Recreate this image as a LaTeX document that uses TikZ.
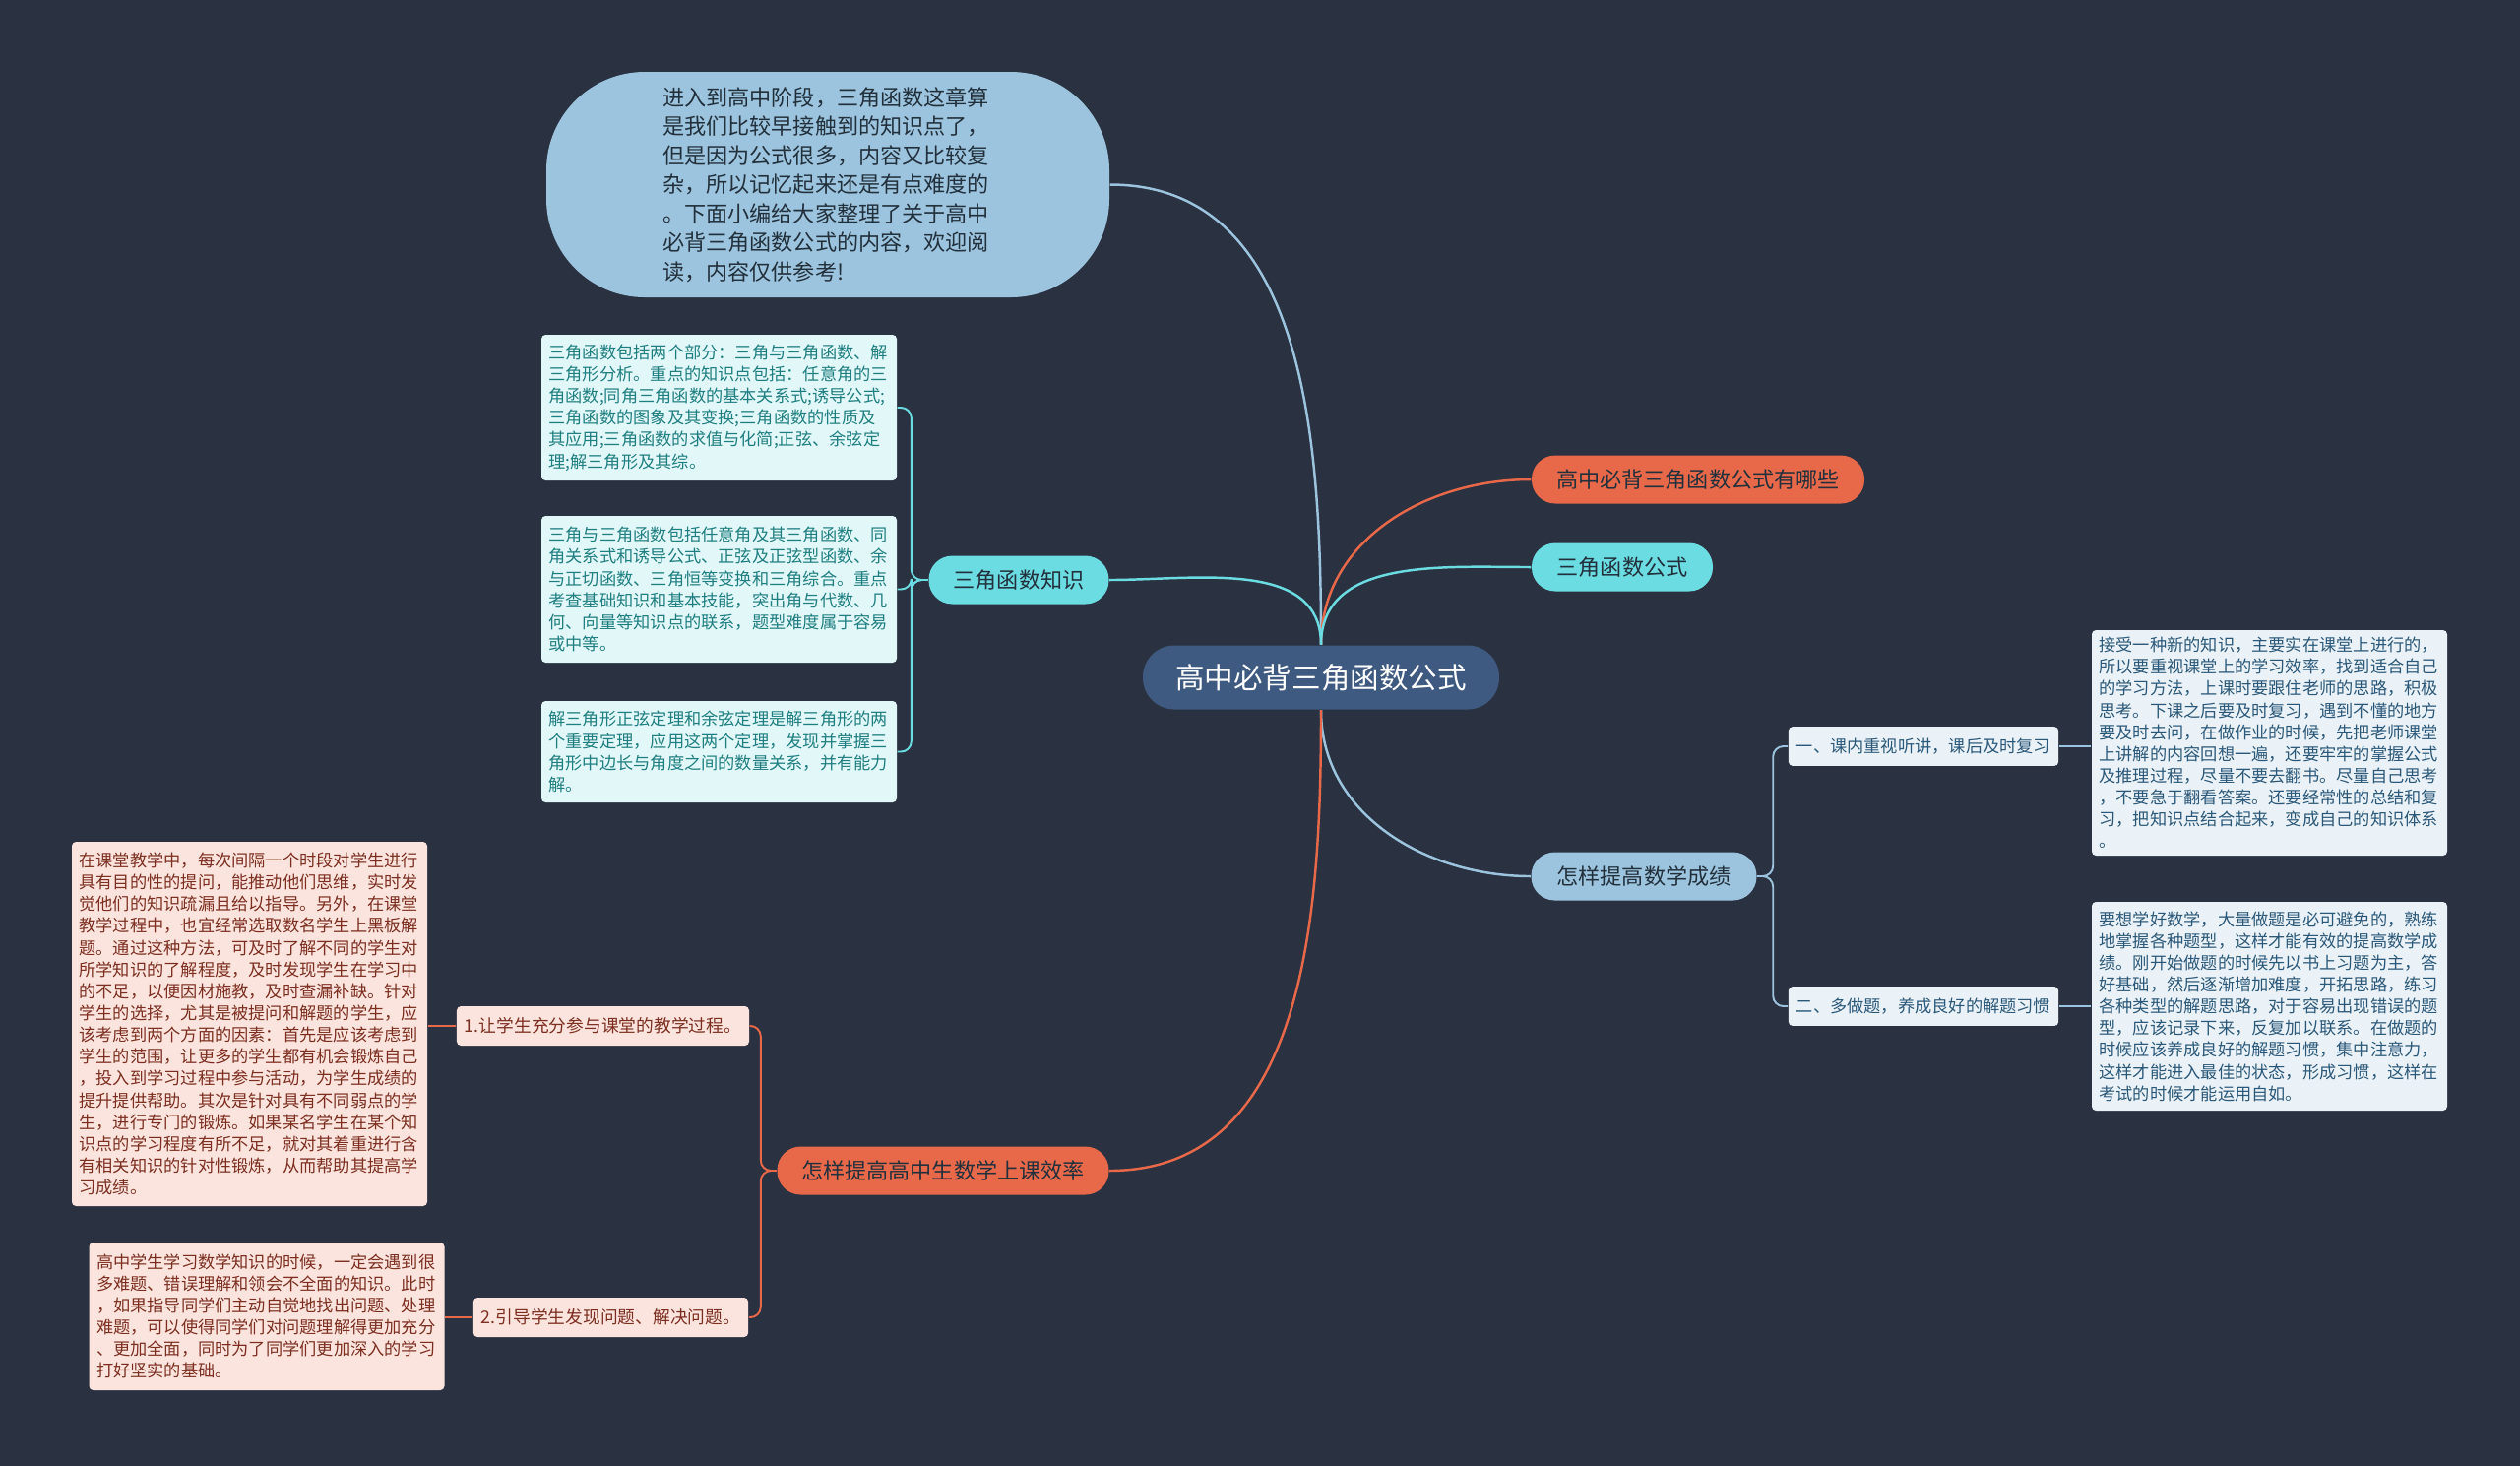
\documentclass[tikz,border=0pt]{standalone}
\usepackage{fontspec}
\newfontfamily\cjk{Noto Sans CJK SC}
\usepackage{xcolor}
\definecolor{bgnavy}{HTML}{2A3140}
\definecolor{rootblue}{HTML}{3F5A80}
\definecolor{coral}{HTML}{E8694A}
\definecolor{aqua}{HTML}{6BDCE2}
\definecolor{skyblue}{HTML}{9CC4DE}
\definecolor{aquapale}{HTML}{E1F7F8}
\definecolor{aquatext}{HTML}{1F7E80}
\definecolor{skypale}{HTML}{EAF2F8}
\definecolor{skytext}{HTML}{2B5878}
\definecolor{coralpale}{HTML}{FCE4DE}
\definecolor{coraltext}{HTML}{7C2E20}
\definecolor{inkdark}{HTML}{22303C}

\begin{document}
\begin{tikzpicture}[
  root/.style={fill=rootblue, text=white, rounded corners=0.32cm,
    minimum width=3.62cm, minimum height=0.65cm,
    font=\cjk\fontsize{8.4}{10}\selectfont},
  topic/.style={rounded corners=0.24cm, minimum height=0.49cm,
    text=inkdark, font=\cjk\fontsize{6.3}{7.5}\selectfont},
  bubble/.style={fill=skyblue, text=inkdark, rounded corners=1.0cm,
    minimum width=5.72cm, minimum height=2.29cm,
    text width=3.36cm, align=left, font=\cjk\fontsize{6.3}{8.4}\selectfont},
  card/.style={rounded corners=1.2pt, text width=3.46cm,
    inner xsep=0.075cm, inner ysep=0.07cm, align=left,
    font=\cjk\fontsize{4.9}{6.3}\selectfont},
  sub/.style={rounded corners=1.2pt, minimum height=0.36cm,
    inner xsep=0.08cm, font=\cjk\fontsize{4.9}{6}\selectfont},
  link/.style={line width=0.7pt},
  twig/.style={line width=0.55pt, rounded corners=3pt},
]
\useasboundingbox (0,0) rectangle (25.6,-14.88);
\fill[bgnavy] (-0.1,0.1) rectangle (25.7,-14.98);
% root
\node[root] (root) at (13.42,-6.88) {高中必背三角函数公式};
% intro
\node[bubble] (intro) at (8.41,-1.875)
  {进入到高中阶段，三角函数这章算\\
   是我们比较早接触到的知识点了，\\
   但是因为公式很多，内容又比较复\\
   杂，所以记忆起来还是有点难度的\\
   。下面小编给大家整理了关于高中\\
   必背三角函数公式的内容，欢迎阅\\
   读，内容仅供参考!};
% main topics
\node[topic, fill=coral, minimum width=3.38cm] (ask) at (17.25,-4.87) {高中必背三角函数公式有哪些};
\node[topic, fill=aqua, minimum width=1.84cm] (formula) at (16.48,-5.76) {三角函数公式};
\node[topic, fill=aqua, minimum width=1.83cm] (know) at (10.35,-5.89) {三角函数知识};
\node[topic, fill=skyblue, minimum width=2.29cm] (score) at (16.70,-8.90) {怎样提高数学成绩};
\node[topic, fill=coral, minimum width=3.37cm] (eff) at (9.58,-11.89) {怎样提高高中生数学上课效率};
\draw[link, skyblue] (root.north) to[out=90, in=0] (intro.east);
\draw[link, coral] (root.north) to[out=90, in=180] (ask.west);
\draw[link, aqua] (root.north) to[out=90, in=180] (formula.west);
\draw[link, aqua] (root.north) to[out=90, in=0] (know.east);
\draw[link, skyblue] (root.south) to[out=-90, in=180] (score.west);
\draw[link, coral] (root.south) to[out=-90, in=0] (eff.east);
% knowledge cards
\node[card, fill=aquapale, text=aquatext, minimum height=1.48cm] (k1) at (7.305,-4.14)
  {三角函数包括两个部分：三角与三角函数、解\\
   三角形分析。重点的知识点包括：任意角的三\\
   角函数;同角三角函数的基本关系式;诱导公式;\\
   三角函数的图象及其变换;三角函数的性质及\\
   其应用;三角函数的求值与化简;正弦、余弦定\\
   理;解三角形及其综。};
\node[card, fill=aquapale, text=aquatext, minimum height=1.49cm] (k2) at (7.305,-5.985)
  {三角与三角函数包括任意角及其三角函数、同\\
   角关系式和诱导公式、正弦及正弦型函数、余\\
   与正切函数、三角恒等变换和三角综合。重点\\
   考查基础知识和基本技能，突出角与代数、几\\
   何、向量等知识点的联系，题型难度属于容易\\
   或中等。};
\node[card, fill=aquapale, text=aquatext, minimum height=1.03cm] (k3) at (7.305,-7.635)
  {解三角形正弦定理和余弦定理是解三角形的两\\
   个重要定理，应用这两个定理，发现并掌握三\\
   角形中边长与角度之间的数量关系，并有能力\\
   解。};
\draw[twig, aqua] (know.west) -- ++(-0.17,0) |- (k1.east);
\draw[twig, aqua] (know.west) -- ++(-0.17,0) |- (k2.east);
\draw[twig, aqua] (know.west) -- ++(-0.17,0) |- (k3.east);
% score branch
\node[sub, fill=skypale, text=skytext, minimum width=2.74cm] (s1) at (19.54,-7.58) {一、课内重视听讲，课后及时复习};
\node[sub, fill=skypale, text=skytext, minimum width=2.74cm] (s2) at (19.54,-10.22) {二、多做题，养成良好的解题习惯};
\draw[twig, skyblue] (score.east) -- ++(0.16,0) |- (s1.west);
\draw[twig, skyblue] (score.east) -- ++(0.16,0) |- (s2.west);
\node[card, fill=skypale, text=skytext, minimum height=2.29cm] (sa) at (23.055,-7.545)
  {接受一种新的知识，主要实在课堂上进行的，\\
   所以要重视课堂上的学习效率，找到适合自己\\
   的学习方法，上课时要跟住老师的思路，积极\\
   思考。下课之后要及时复习，遇到不懂的地方\\
   要及时去问，在做作业的时候，先把老师课堂\\
   上讲解的内容回想一遍，还要牢牢的掌握公式\\
   及推理过程，尽量不要去翻书。尽量自己思考\\
   ，不要急于翻看答案。还要经常性的总结和复\\
   习，把知识点结合起来，变成自己的知识体系\\
   。};
\node[card, fill=skypale, text=skytext, minimum height=2.12cm] (sb) at (23.055,-10.22)
  {要想学好数学，大量做题是必可避免的，熟练\\
   地掌握各种题型，这样才能有效的提高数学成\\
   绩。刚开始做题的时候先以书上习题为主，答\\
   好基础，然后逐渐增加难度，开拓思路，练习\\
   各种类型的解题思路，对于容易出现错误的题\\
   型，应该记录下来，反复加以联系。在做题的\\
   时候应该养成良好的解题习惯，集中注意力，\\
   这样才能进入最佳的状态，形成习惯，这样在\\
   考试的时候才能运用自如。};
\draw[twig, skyblue] (s1.east) -- (sa.west |- s1.east);
\draw[twig, skyblue] (s2.east) -- (sb.west |- s2.east);
% efficiency branch
\node[sub, fill=coralpale, text=coraltext, minimum width=2.91cm,
  font=\cjk\fontsize{5.05}{6}\selectfont] (e1) at (6.125,-10.42) {1.让学生充分参与课堂的教学过程。};
\node[sub, fill=coralpale, text=coraltext, minimum width=2.75cm, minimum height=0.38cm,
  font=\cjk\fontsize{5.05}{6}\selectfont] (e2) at (6.205,-13.38) {2.引导学生发现问题、解决问题。};
\draw[twig, coral] (eff.west) -- ++(-0.16,0) |- (e1.east);
\draw[twig, coral] (eff.west) -- ++(-0.16,0) |- (e2.east);
\node[card, fill=coralpale, text=coraltext, minimum height=3.70cm] (ec) at (2.535,-10.40)
  {在课堂教学中，每次间隔一个时段对学生进行\\
   具有目的性的提问，能推动他们思维，实时发\\
   觉他们的知识疏漏且给以指导。另外，在课堂\\
   教学过程中，也宜经常选取数名学生上黑板解\\
   题。通过这种方法，可及时了解不同的学生对\\
   所学知识的了解程度，及时发现学生在学习中\\
   的不足，以便因材施教，及时查漏补缺。针对\\
   学生的选择，尤其是被提问和解题的学生，应\\
   该考虑到两个方面的因素：首先是应该考虑到\\
   学生的范围，让更多的学生都有机会锻炼自己\\
   ，投入到学习过程中参与活动，为学生成绩的\\
   提升提供帮助。其次是针对具有不同弱点的学\\
   生，进行专门的锻炼。如果某名学生在某个知\\
   识点的学习程度有所不足，就对其着重进行含\\
   有相关知识的针对性锻炼，从而帮助其提高学\\
   习成绩。};
\node[card, fill=coralpale, text=coraltext, minimum height=1.50cm] (ed) at (2.71,-13.37)
  {高中学生学习数学知识的时候，一定会遇到很\\
   多难题、错误理解和领会不全面的知识。此时\\
   ，如果指导同学们主动自觉地找出问题、处理\\
   难题，可以使得同学们对问题理解得更加充分\\
   、更加全面，同时为了同学们更加深入的学习\\
   打好坚实的基础。};
\draw[twig, coral] (e1.west) -- (ec.east |- e1.west);
\draw[twig, coral] (e2.west) -- (ed.east |- e2.west);
\end{tikzpicture}
\end{document}
